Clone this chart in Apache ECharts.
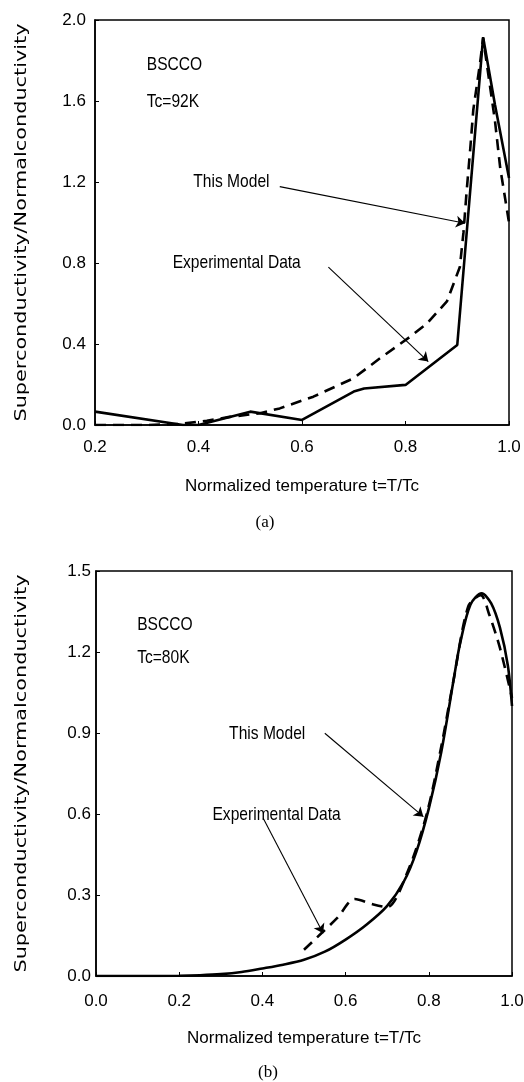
<!DOCTYPE html>
<html>
    <head>
        <meta charset="utf-8">
        <script src="https://cdn.jsdelivr.net/npm/echarts@6/dist/echarts.min.js"></script>
        <style>
            html, body {
                margin: 0;
                padding: 0;
                background: #fff;
            }
            #main {
                width: 524px;
                height: 1082px;
            }
        </style>
    </head>
    <body>
        <div id="main"></div>
        <script>

            // (a) BSCCO, Tc = 92K
            var tExpA   = [0.2, 0.37, 0.40, 0.50, 0.60, 0.70, 0.72, 0.80, 0.90, 0.95, 0.973, 1.0];
            var expA    = [0.066, 0, 0, 0.066, 0.025, 0.165, 0.18, 0.198, 0.395, 1.915, 1.58, 1.22];
            var tModelA = [0.2, 0.3, 0.364, 0.416, 0.46, 0.519, 0.557, 0.622, 0.699, 0.751, 0.809, 0.841,
                           0.88, 0.905, 0.912, 0.918, 0.925, 0.931, 0.944, 0.95, 0.973, 0.983, 1.0];
            var modelA  = [0, 0, 0.005, 0.021, 0.04, 0.058, 0.082, 0.14, 0.23, 0.33, 0.436, 0.50,
                           0.61, 0.78, 0.95, 1.15, 1.36, 1.556, 1.786, 1.91, 1.50, 1.27, 1.0];

            // (b) BSCCO, Tc = 80K
            var tModelB = [0, 0.1, 0.2, 0.25, 0.3, 0.35, 0.4, 0.45, 0.5, 0.55, 0.6, 0.65, 0.7, 0.74,
                           0.77, 0.8, 0.83, 0.86, 0.875, 0.9, 0.927, 0.95, 0.971, 0.99, 1.0];
            var modelB  = [0, 0, 0.001, 0.003, 0.007, 0.015, 0.028, 0.042, 0.06, 0.09, 0.135, 0.19, 0.26, 0.35,
                           0.46, 0.62, 0.83, 1.10, 1.23, 1.375, 1.417, 1.38, 1.29, 1.15, 1.0];
            var tExpB   = [0.50, 0.543, 0.58, 0.622, 0.667, 0.70, 0.75, 0.795, 0.83, 0.86, 0.895, 0.925,
                           0.945, 0.971, 1.0];
            var expB    = [0.097, 0.16, 0.215, 0.285, 0.265, 0.255, 0.39, 0.60, 0.85, 1.10, 1.37, 1.41,
                           1.34, 1.215, 1.03];

            // axis ticks
            var xTicksA = { min: 0.2, max: 1.0, interval: 0.2 };
            var yTicksA = { min: 0, max: 2.0, interval: 0.4 };
            var xTicksB = { min: 0, max: 1.0, interval: 0.2 };
            var yTicksB = { min: 0, max: 1.5, interval: 0.3 };

            var xName = 'Normalized temperature t=T/Tc';
            var yName = 'Superconductivity/Normalconductivity';

            // text notes and arrows, in data units
            var notesA = [
                ['BSCCO', 0.300, 1.778],
                ['Tc=92K', 0.300, 1.597],
                ['This Model', 0.390, 1.20],
                ['Experimental Data', 0.350, 0.80]
            ];
            var arrowsA = [
                [[0.557, 1.177], [0.915, 0.996]],
                [[0.651, 0.78], [0.844, 0.313]]
            ];
            var notesB = [
                ['BSCCO', 0.099, 1.30],
                ['Tc=80K', 0.099, 1.177],
                ['This Model', 0.320, 0.899],
                ['Experimental Data', 0.280, 0.596]
            ];
            var arrowsB = [
                [[0.550, 0.899], [0.787, 0.59]],
                [[0.402, 0.584], [0.546, 0.158]]
            ];

            var plain = '"Liberation Sans", Arial, sans-serif';

            var grids = [
                { left: 95, top: 20, width: 414, height: 405 },
                { left: 96, top: 571, width: 416, height: 405 }
            ];

            function zip(xs, ys) {
                return xs.map(function (x, i) { return [x, ys[i]]; });
            }

            function xAxisFor(gridIndex, ticks, margin, gap) {
                return {
                    type: 'value',
                    gridIndex: gridIndex,
                    min: ticks.min,
                    max: ticks.max,
                    interval: ticks.interval,
                    name: xName,
                    nameLocation: 'middle',
                    nameGap: gap,
                    nameTextStyle: { color: '#000', fontSize: 17, fontFamily: plain },
                    axisLine: { show: true, onZero: false, lineStyle: { color: '#000', width: 1.5 } },
                    axisTick: { show: true, inside: true, length: 4, lineStyle: { color: '#000' } },
                    axisLabel: {
                        color: '#000', fontSize: 17, fontFamily: plain, margin: margin,
                        showMinLabel: true, showMaxLabel: true, hideOverlap: false,
                        formatter: function (v) { return v.toFixed(1); }
                    },
                    splitLine: { show: false }
                };
            }

            function yAxisFor(gridIndex, ticks, margin) {
                return {
                    type: 'value',
                    gridIndex: gridIndex,
                    min: ticks.min,
                    max: ticks.max,
                    interval: ticks.interval,
                    axisLine: { show: true, onZero: false, lineStyle: { color: '#000', width: 1.5 } },
                    axisTick: { show: true, inside: true, length: 4, lineStyle: { color: '#000' } },
                    axisLabel: {
                        color: '#000', fontSize: 17, fontFamily: plain, margin: margin,
                        showMinLabel: true, showMaxLabel: true, hideOverlap: false,
                        formatter: function (v) { return v.toFixed(1); }
                    },
                    splitLine: { show: false }
                };
            }

            function curve(idx, data, dashed, smooth) {
                return {
                    type: 'line',
                    xAxisIndex: idx,
                    yAxisIndex: idx,
                    data: data,
                    showSymbol: false,
                    smooth: smooth,
                    silent: true,
                    lineStyle: {
                        color: '#000',
                        width: 2.6,
                        type: dashed ? [11, 7] : 'solid'
                    }
                };
            }

            function arrows(idx, list) {
                return {
                    type: 'line',
                    xAxisIndex: idx,
                    yAxisIndex: idx,
                    data: [],
                    silent: true,
                    markLine: {
                        silent: true,
                        animation: false,
                        symbol: ['none', 'arrow'],
                        symbolSize: 9,
                        label: { show: false },
                        lineStyle: { color: '#000', width: 1.1, type: 'solid' },
                        data: list.map(function (a) {
                            return [
                                { coord: a[0], symbol: 'none' },
                                { coord: a[1], symbol: 'arrow', symbolSize: 9 }
                            ];
                        })
                    }
                };
            }

            var chart = echarts.init(document.getElementById('main'), null, { renderer: 'canvas' });

            var option = {
                backgroundColor: '#fff',
                animation: false,
                grid: grids.map(function (g) {
                    return {
                        left: g.left, top: g.top, width: g.width, height: g.height,
                        show: true, borderColor: '#000', borderWidth: 1.5, outerBoundsMode: 'none'
                    };
                }),
                xAxis: [
                    xAxisFor(0, xTicksA, 14, 53),
                    xAxisFor(1, xTicksB, 17, 54)
                ],
                yAxis: [
                    yAxisFor(0, yTicksA, 9),
                    yAxisFor(1, yTicksB, 5)
                ],
                series: [
                    curve(0, zip(tExpA, expA), false, false),
                    curve(0, zip(tModelA, modelA), true, false),
                    curve(1, zip(tModelB, modelB), false, 0.3),
                    curve(1, zip(tExpB, expB), true, 0.3),
                    arrows(0, arrowsA),
                    arrows(1, arrowsB)
                ]
            };

            chart.setOption(option);

            // notes are placed from data units; the condensed look of the scan is
            // imitated by squeezing a normal face
            function noteItems(idx, list) {
                return list.map(function (n) {
                    var p = chart.convertToPixel({ gridIndex: idx }, [n[1], n[2]]);
                    return {
                        type: 'text',
                        x: p[0],
                        y: p[1],
                        scaleX: 0.82,
                        silent: true,
                        style: {
                            text: n[0],
                            fill: '#000',
                            font: '19px ' + plain,
                            align: 'left',
                            verticalAlign: 'middle'
                        }
                    };
                });
            }

            function yNameItem(g) {
                return {
                    type: 'text',
                    x: 22,
                    y: g.top + g.height / 2,
                    rotation: Math.PI / 2,
                    scaleX: 1.3,
                    silent: true,
                    style: {
                        text: yName,
                        fill: '#000',
                        font: '16px "DejaVu Sans", sans-serif',
                        align: 'center',
                        verticalAlign: 'middle'
                    }
                };
            }

            chart.setOption({
                graphic: [
                    yNameItem(grids[0]),
                    yNameItem(grids[1]),
                    { type: 'text', x: 265, y: 523, style: { text: '(a)', fill: '#000', font: '17px "Liberation Serif", serif', align: 'center', verticalAlign: 'middle' } },
                    { type: 'text', x: 268, y: 1073, style: { text: '(b)', fill: '#000', font: '17px "Liberation Serif", serif', align: 'center', verticalAlign: 'middle' } }
                ].concat(noteItems(0, notesA), noteItems(1, notesB))
            });

        </script>
    </body>
</html>
